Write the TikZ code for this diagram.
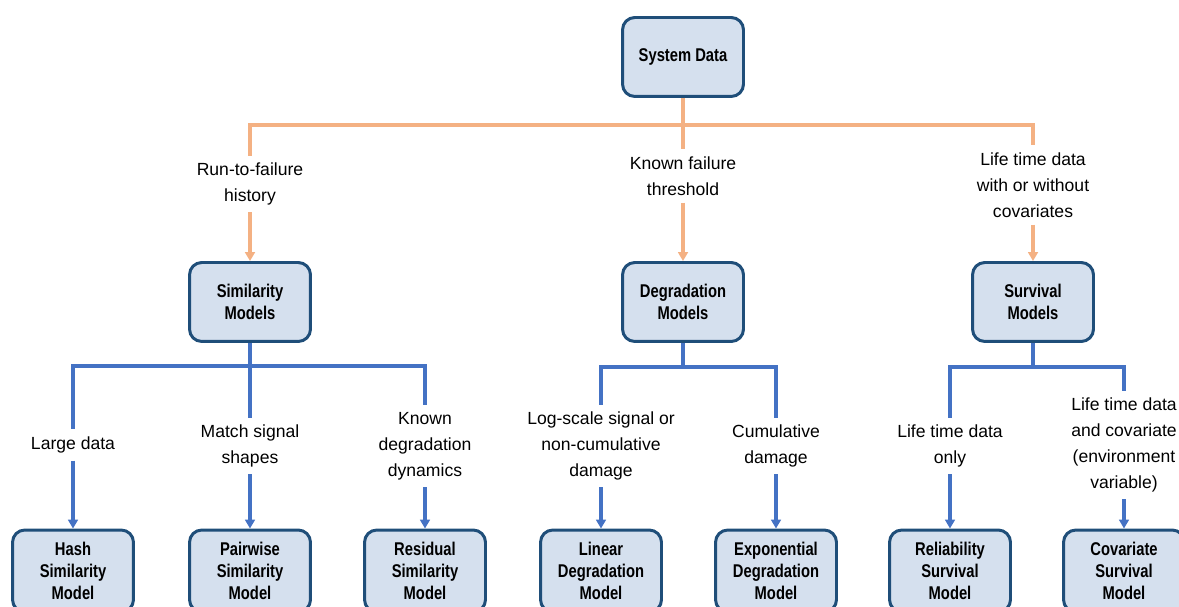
\documentclass[tikz,border=0pt]{standalone}
\usepackage{fontspec}
\setmainfont{Liberation Sans}
\newfontfamily\boxfont[FakeStretch=0.8]{Liberation Sans}
\usetikzlibrary{arrows.meta}
\definecolor{boxedge}{RGB}{31,78,121}
\definecolor{boxfill}{RGB}{213,224,238}
\definecolor{datalink}{RGB}{244,177,131}
\definecolor{modellink}{RGB}{68,114,196}
\begin{document}
\begin{tikzpicture}[x=0.02cm,y=-0.02cm,
  model/.style={rectangle,rounded corners=7pt,draw=boxedge,fill=boxfill,line width=1.7pt,
    minimum width=2.42cm,minimum height=1.58cm,align=center,
    font=\boxfont\bfseries\fontsize{10.5}{12.5}\selectfont},
  leaf/.style={model,minimum height=1.64cm},
  cond/.style={align=center,inner sep=4pt,font=\fontsize{10}{14.7}\selectfont},
  olink/.style={draw=datalink,line width=2pt},
  blink/.style={draw=modellink,line width=2pt},
  pointer/.style={-{Triangle[width=5.5pt,length=5pt]}}]

\useasboundingbox (0,0) rectangle (1179,607);
\clip (0,0) rectangle (1179,607);

% top level
\node[model] (sys) at (683,57) {System Data};
\node[cond] (rtf) at (250,184) {Run-to-failure\\history};
\node[cond] (kft) at (683,176) {Known failure\\threshold};
\node[cond] (ltd) at (1033,185) {Life time data\\with or without\\covariates};

% model families
\node[model] (sim) at (250,302) {Similarity\\Models};
\node[model] (deg) at (683,302) {Degradation\\Models};
\node[model] (sur) at (1033,302) {Survival\\Models};

% conditions
\node[cond] (big) at (73,445) {Large data};
\node[cond] (shp) at (250,446) {Match signal\\shapes};
\node[cond] (dyn) at (425,446) {Known\\degradation\\dynamics};
\node[cond] (log) at (601,446) {Log-scale signal or\\non-cumulative\\damage};
\node[cond] (cum) at (776,446) {Cumulative\\damage};
\node[cond] (only) at (950,446) {Life time data\\only};
\node[cond] (cov) at (1124,445) {Life time data\\and covariate\\(environment\\variable)};

% models
\node[leaf] (hash) at (73,571) {Hash\\Similarity\\Model};
\node[leaf] (pair) at (250,571) {Pairwise\\Similarity\\Model};
\node[leaf] (res) at (425,571) {Residual\\Similarity\\Model};
\node[leaf] (lin) at (601,571) {Linear\\Degradation\\Model};
\node[leaf] (exp) at (776,571) {Exponential\\Degradation\\Model};
\node[leaf] (rel) at (950,571) {Reliability\\Survival\\Model};
\node[leaf] (covm) at (1124,571) {Covariate\\Survival\\Model};

\coordinate (s0) at (683,125);
\coordinate (s1) at (250,366);
\coordinate (s2) at (683,367);
\coordinate (s3) at (1033,367);

\draw[olink] (sys)--(s0) (s0)-|(rtf) (s0)--(kft) (s0)-|(ltd);
\draw[olink,pointer] (rtf)--(sim);
\draw[olink,pointer] (kft)--(deg);
\draw[olink,pointer] (ltd)--(sur);

\draw[blink] (sim)--(s1) (s1)-|(big) (s1)--(shp) (s1)-|(dyn);
\draw[blink] (deg)--(s2) (s2)-|(log) (s2)-|(cum);
\draw[blink] (sur)--(s3) (s3)-|(only) (s3)-|(cov);
\draw[blink,pointer] (big)--(hash);
\draw[blink,pointer] (shp)--(pair);
\draw[blink,pointer] (dyn)--(res);
\draw[blink,pointer] (log)--(lin);
\draw[blink,pointer] (cum)--(exp);
\draw[blink,pointer] (only)--(rel);
\draw[blink,pointer] (cov)--(covm);
\end{tikzpicture}
\end{document}
